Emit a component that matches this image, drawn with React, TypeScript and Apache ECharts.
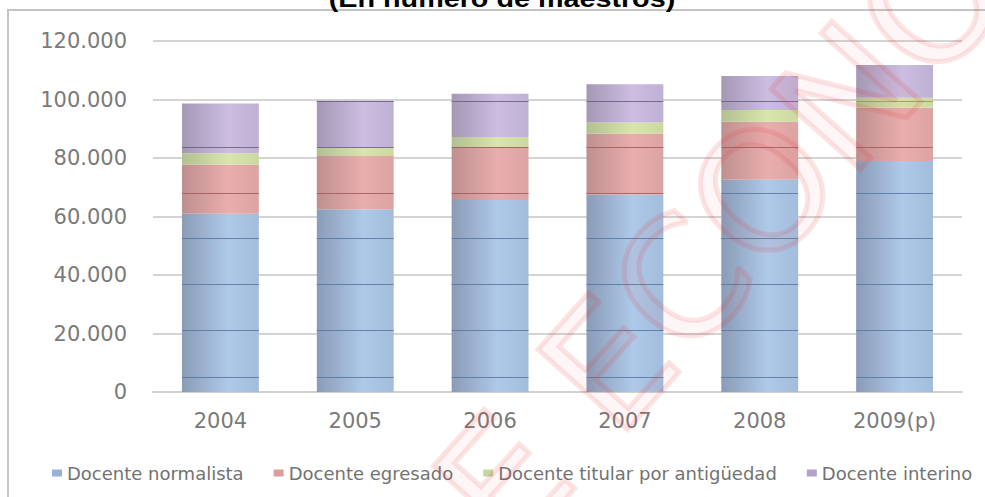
import React, { useEffect, useRef } from "react";
import * as echarts from "echarts";

const categories = ["2004", "2005", "2006", "2007", "2008", "2009(p)"];
const seriesNames = [
  "Docente normalista",
  "Docente egresado",
  "Docente titular por antigüedad",
  "Docente interino",
];
const normalista = [60900, 62500, 65600, 67400, 72600, 79000];
const egresado = [16900, 18200, 18200, 21000, 19800, 18200];
const titular = [3800, 3000, 3400, 3700, 4000, 3400];
const interino = [17000, 15900, 14800, 13100, 11600, 11200];
const yTickValues = [0, 20000, 40000, 60000, 80000, 100000, 120000];
// faint horizontal scan lines visible across the bars in the source picture
const scanLineValues = [5100, 21200, 36900, 52600, 68000, 83800, 99500];

const titleText = "(En número de maestros)";
const watermarkText = "DE ECONOMÍA";

const lightColors = ["#aec9e9", "#e9adad", "#d8e6ab", "#ccbde1"];
const darkColors = ["#8a9bb6", "#bf8f8f", "#b2bf91", "#a498b4"];
const edgeColors = ["#a3bcdb", "#dca3a3", "#cbd9a0", "#bfb1d3"];
const legendColors = ["#95b3d8", "#df9c9c", "#c3d69b", "#b3a2c7"];
const scanColors = ["#56779f", "#9d5a5a", "#8d9a60", "#6b5c86"];

const seriesData = [normalista, egresado, titular, interino];

function fmt(v: number): string {
  return String(v).replace(/\B(?=(\d{3})+(?!\d))/g, ".");
}

export default function App() {
  const ref = useRef<HTMLDivElement>(null);
  useEffect(() => {
    if (!ref.current) return;
    const chart = echarts.init(ref.current, null, { renderer: "svg" });
    const totals = categories.map((_, i) =>
      seriesData.reduce((s, arr) => s + arr[i], 0)
    );
    const barRatio = 0.57;

    const barSeries = seriesData.map((arr, k) => ({
      name: seriesNames[k],
      type: "bar",
      stack: "total",
      barWidth: "57%",
      data: arr,
      itemStyle: {
        color: new echarts.graphic.LinearGradient(0, 0, 1, 0, [
          { offset: 0, color: darkColors[k] },
          { offset: 0.6, color: lightColors[k] },
          { offset: 1, color: edgeColors[k] },
        ]),
      },
      z: 2,
    }));

    const scanSeries = {
      type: "custom",
      name: "scan",
      silent: true,
      z: 3,
      encode: { x: 0, y: 1 },
      data: totals.map((t, i) => [i, t]),
      renderItem: (params: any, api: any) => {
        const idx = api.value(0);
        const total = api.value(1);
        const center = api.coord([idx, 0]);
        const bw = api.size([1, 0])[0] * barRatio;
        const children: any[] = [];
        scanLineValues.forEach((v) => {
          if (v > total) return;
          let cum = 0;
          let seg = 0;
          for (let k = 0; k < seriesData.length; k++) {
            cum += seriesData[k][idx];
            if (v <= cum) {
              seg = k;
              break;
            }
          }
          const y = Math.round(api.coord([idx, v])[1]) + 0.5;
          children.push({
            type: "line",
            shape: { x1: center[0] - bw / 2, y1: y, x2: center[0] + bw / 2, y2: y },
            style: { stroke: scanColors[seg], lineWidth: 1, opacity: 0.85 },
          });
        });
        return { type: "group", children };
      },
    };

    chart.setOption({
      animation: false,
      grid: { left: 153, right: 23, top: 41, bottom: 105, containLabel: false },
      legend: {
        left: 47,
        top: 459,
        itemWidth: 10,
        itemHeight: 7,
        itemGap: 30,
        icon: "rect",
        textStyle: { fontFamily: "DejaVu Sans", fontSize: 18, color: "#727272" },
        data: seriesNames.map((n, k) => ({ name: n, itemStyle: { color: legendColors[k] } })),
      },
      xAxis: {
        type: "category",
        data: categories,
        axisTick: { show: false },
        axisLine: { show: true, lineStyle: { color: "#d0d0d0", width: 2 } },
        axisLabel: {
          fontFamily: "DejaVu Sans",
          fontSize: 21,
          color: "#7a7a7a",
          margin: 18,
        },
      },
      yAxis: {
        type: "value",
        min: yTickValues[0],
        max: yTickValues[yTickValues.length - 1],
        interval: yTickValues[1] - yTickValues[0],
        axisLine: { show: false },
        axisTick: { show: false },
        splitLine: { lineStyle: { color: "#d4d4d4", width: 2 } },
        axisLabel: {
          fontFamily: "DejaVu Sans",
          fontSize: 21,
          color: "#7a7a7a",
          margin: 26,
          formatter: (v: number) => fmt(v),
        },
      },
      graphic: [
        {
          type: "line",
          shape: { x1: 8, y1: 10, x2: 8, y2: 497 },
          style: { stroke: "#c4c4c4", lineWidth: 2 },
          z: 1,
        },
        {
          type: "line",
          shape: { x1: 7, y1: 10, x2: 985, y2: 10 },
          style: { stroke: "#c4c4c4", lineWidth: 2 },
          z: 1,
        },
        {
          type: "text",
          x: 502,
          y: 11,
          scaleX: 1.25,
          style: {
            text: titleText,
            font: 'bold 23px "Liberation Sans"',
            fill: "#000000",
            textAlign: "center",
            textVerticalAlign: "bottom",
          },
          z: 5,
        },
        {
          type: "text",
          x: 385,
          y: 615,
          rotation: 0.84,
          style: {
            text: watermarkText,
            font: '165px "DejaVu Sans"',
            fill: "rgba(240,70,70,0.05)",
            stroke: "rgba(235,50,50,0.13)",
            lineWidth: 5,
            textAlign: "left",
            textVerticalAlign: "middle",
          },
          z: 100,
          silent: true,
        },
      ],
      series: [...barSeries, scanSeries],
    });
    return () => chart.dispose();
  }, []);
  return (
    <div
      ref={ref}
      style={{ position: "fixed", left: 0, top: 0, width: 985, height: 497, background: "#fff" }}
    />
  );
}
